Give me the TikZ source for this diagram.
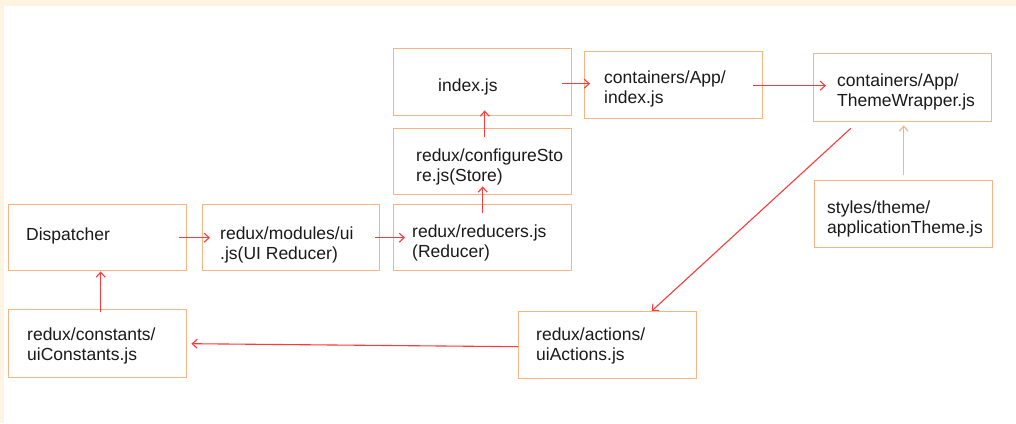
\documentclass[tikz,border=0pt]{standalone}
\usepackage{fontspec}
\setmainfont{Liberation Sans}
\usetikzlibrary{arrows.meta,positioning}
\definecolor{cream}{HTML}{FFF4E1}
\definecolor{boxorange}{HTML}{F8B483}
\definecolor{arrred}{HTML}{F83C3C}
\definecolor{arrorange}{HTML}{F8B483}
\definecolor{txt}{HTML}{1A1A1A}
\tikzset{
  box/.style={draw=boxorange, line width=1.4pt, anchor=north west, inner sep=0pt},
  lbl/.style={anchor=base west, inner sep=0pt, align=left, text=txt,
    font=\fontsize{17.5}{20}\selectfont},
  conn/.style={draw=arrred, line width=1.1pt, -{Straight Barb[length=5pt,width=9pt]}},
  connor/.style={draw=arrorange, line width=1.1pt, -{Straight Barb[length=5pt,width=9pt]}}
}
\begin{document}
\begin{tikzpicture}[x=1pt,y=-1pt]
\fill[cream] (0,0) rectangle (1016,423);
\fill[white] (4,6) rectangle (1016,423);
\useasboundingbox (0,0) rectangle (1016,423);
% boxes
\node[box, minimum width=178, minimum height=66] (disp) at (8,204) {};
\node[box, minimum width=177, minimum height=66] (ui) at (202,204) {};
\node[box, minimum width=178, minimum height=66] (red) at (393,204) {};
\node[box, minimum width=178, minimum height=66] (cfg) at (393,128) {};
\node[box, minimum width=178, minimum height=67] (idx) at (393,48) {};
\node[box, minimum width=178, minimum height=67] (app) at (584,51) {};
\node[box, minimum width=178, minimum height=68] (tw) at (813,53) {};
\node[box, minimum width=178, minimum height=67] (theme) at (814,180) {};
\node[box, minimum width=178, minimum height=67] (act) at (518,311) {};
\node[box, minimum width=178, minimum height=68] (const) at (8,309) {};
% labels (anchor at baseline of last line)
\node[lbl] (disp-t) at (26,240) {Dispatcher};
\node[lbl] (ui-t) at (220,259) {redux/modules/ui\\.js(UI Reducer)};
\node[lbl] (red-t) at (412,257) {redux/reducers.js\\(Reducer)};
\node[lbl] (cfg-t) at (416,181) {redux/configureSto\\re.js(Store)};
\node[lbl] (idx-t) at (438,91) {index.js};
\node[lbl] (app-t) at (604,103) {containers/App/\\index.js};
\node[lbl] (tw-t) at (837,106) {containers/App/\\ThemeWrapper.js};
\node[lbl] (theme-t) at (827,233) {styles/theme/\\applicationTheme.js};
\node[lbl] (act-t) at (536,360) {redux/actions/\\uiActions.js};
\node[lbl] (const-t) at (27,360) {redux/constants/\\uiConstants.js};
% connectors
\draw[conn] ([xshift=-8]disp.east) -- ([xshift=8]ui.west);
\draw[conn] ([xshift=-5]ui.east) -- ([xshift=12]red.west);
\draw[conn] ([yshift=-9]red.north) -- ([yshift=9]cfg.south);
\draw[conn] ([xshift=2,yshift=-9]cfg.north) -- ([xshift=2,yshift=6]idx.south);
\draw[conn] ([xshift=-10,yshift=-1.5]idx.east) -- ([xshift=6,yshift=1.5]app.west);
\draw[conn] ([xshift=-10,yshift=-0.5]app.east) -- ([xshift=13,yshift=2]tw.west);
\draw[conn] ([xshift=-52,yshift=-6]tw.south) -- ([xshift=44]act.north);
\draw[connor] ([xshift=0,yshift=5]theme.north) -- ([xshift=1,yshift=-3]tw.south);
\draw[conn] ([yshift=-1.5]act.west) -- ([xshift=4]const.east);
\draw[conn] ([xshift=3,yshift=-3]const.north) -- ([xshift=3]disp.south);
\end{tikzpicture}
\end{document}
